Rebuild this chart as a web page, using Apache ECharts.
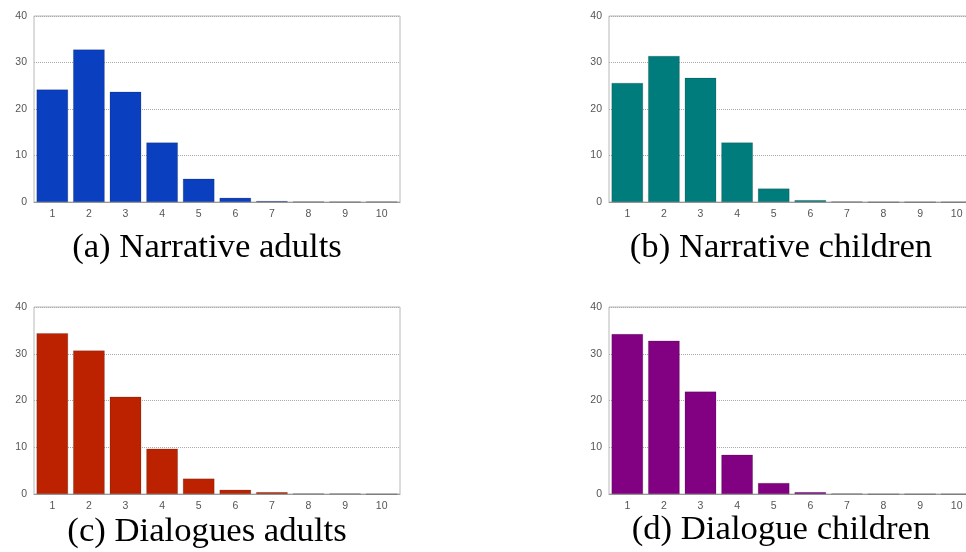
<!DOCTYPE html>
<html>
<head>
<meta charset="utf-8">
<script src="https://cdn.jsdelivr.net/npm/echarts@6/dist/echarts.min.js"></script>
<style>html,body{margin:0;padding:0;background:#fff}#c{width:966px;height:552px}</style>
</head>
<body>
<div id="c"></div>
<script>
const categories = ['1','2','3','4','5','6','7','8','9','10'];
const narrativeAdults   = [24.2, 32.8, 23.7, 12.8, 5.0, 0.9, 0.2, 0.1, 0.05, 0.1];
const narrativeChildren = [25.6, 31.4, 26.7, 12.8, 2.9, 0.4, 0.1, 0, 0, 0];
const dialoguesAdults   = [34.4, 30.7, 20.8, 9.7, 3.3, 0.9, 0.4, 0.1, 0.1, 0];
const dialogueChildren  = [34.2, 32.8, 21.9, 8.4, 2.35, 0.4, 0.1, 0, 0, 0];
const captions = ['(a) Narrative adults', '(b) Narrative children', '(c) Dialogues adults', '(d) Dialogue children'];
const yTicks = { min: 0, max: 40, interval: 10 };

const seriesData = [narrativeAdults, narrativeChildren, dialoguesAdults, dialogueChildren];
const colors = ['#0a3fbf', '#007c7c', '#bd2200', '#820082'];
const grids = [
  { left: 34, top: 16, width: 366, height: 186 },
  { left: 609, top: 16, width: 366, height: 186 },
  { left: 34, top: 307, width: 366, height: 187 },
  { left: 609, top: 307, width: 366, height: 187 }
];
const captionPos = [[207, 230], [781, 230], [207, 514], [781, 512]];

const chart = echarts.init(document.getElementById('c'), null, { renderer: 'canvas' });
const option = {
  backgroundColor: '#fff',
  animation: false,
  title: captions.map((t, i) => ({
    text: t,
    left: captionPos[i][0],
    top: captionPos[i][1],
    textAlign: 'center',
    padding: 0,
    textStyle: { fontFamily: 'Liberation Serif', fontSize: 34.7, fontWeight: 'normal', color: '#000' }
  })),
  grid: grids.map(g => Object.assign({
    show: true, borderColor: '#b8b8b8', borderWidth: 1, backgroundColor: '#fff',
    containLabel: false, outerBoundsMode: 'none'
  }, g)),
  xAxis: grids.map((g, i) => ({
    type: 'category',
    gridIndex: i,
    data: categories,
    axisLine: { lineStyle: { color: '#9a9a9a', width: 1 } },
    axisTick: { show: false },
    axisLabel: { color: '#555', fontSize: 10.5, fontFamily: 'Liberation Sans', margin: 7 }
  })),
  yAxis: grids.map((g, i) => ({
    type: 'value',
    gridIndex: i,
    min: yTicks.min, max: yTicks.max, interval: yTicks.interval,
    axisLine: { show: false },
    axisTick: { show: false },
    axisLabel: { color: '#555', fontSize: 10.5, fontFamily: 'Liberation Sans', margin: 7 },
    splitLine: { show: true, lineStyle: { color: '#aaa', type: [1, 1], width: 1 } }
  })),
  series: seriesData.map((d, i) => ({
    type: 'bar',
    xAxisIndex: i,
    yAxisIndex: i,
    data: d,
    barCategoryGap: '14%',
    itemStyle: { color: colors[i], borderColor: 'rgba(0,0,0,0.35)', borderWidth: 0.5 }
  }))
};
chart.setOption(option);
</script>
</body>
</html>
